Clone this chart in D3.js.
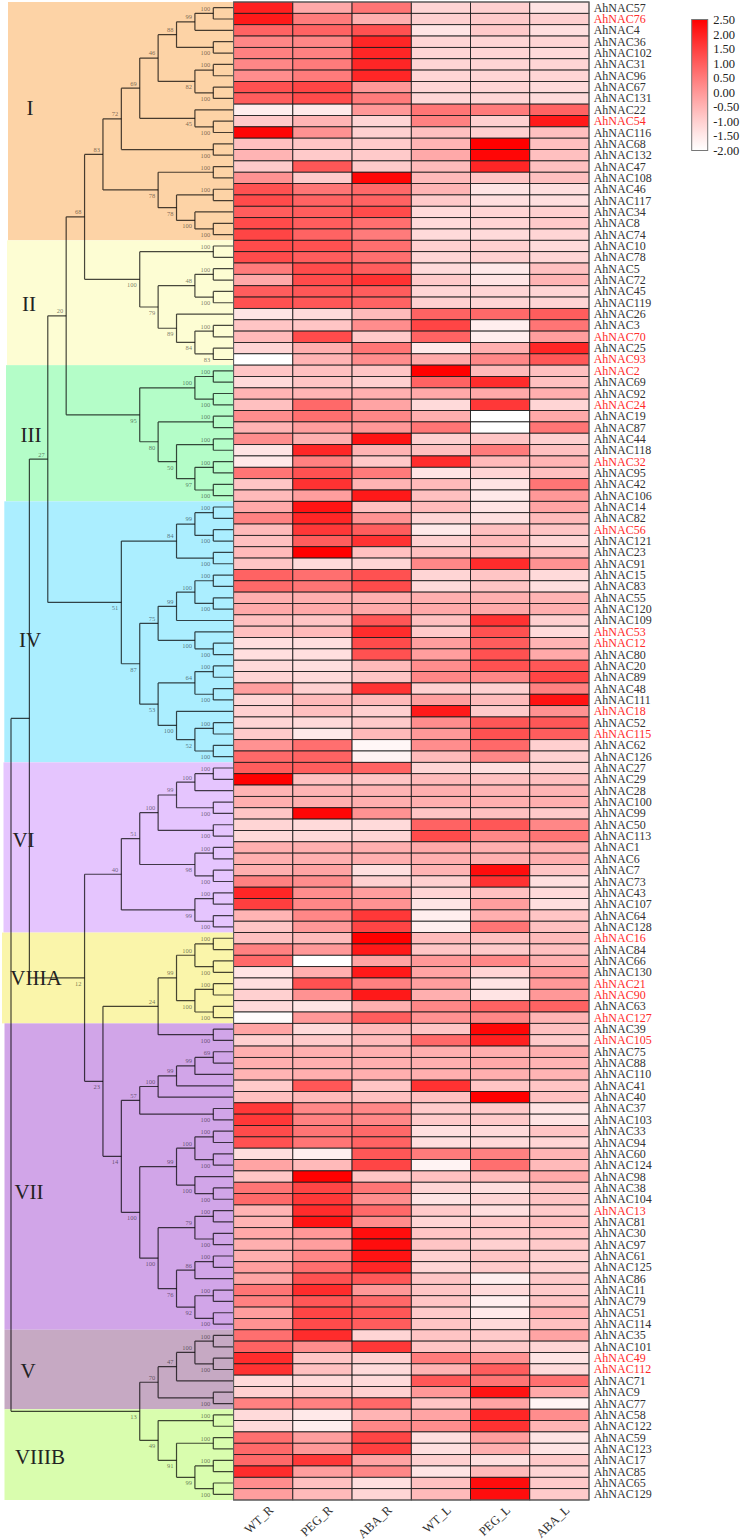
<!DOCTYPE html>
<html><head><meta charset="utf-8">
<script src="https://cdnjs.cloudflare.com/ajax/libs/d3/7.8.5/d3.min.js"></script>
<style>html,body{margin:0;padding:0;background:#fff}svg{display:block}text{font-family:"Liberation Serif",serif}</style>
</head><body><svg id="c" width="742" height="1540"></svg>
<script>
const conditions = ["WT_R","PEG_R","ABA_R","WT_L","PEG_L","ABA_L"];
const genes = [57,76,4,36,102,31,96,67,131,22,54,116,68,132,47,108,46,117,34,8,74,10,78,5,72,45,119,26,3,70,25,93,2,69,92,24,19,87,44,118,32,95,42,106,14,82,56,121,23,91,15,83,55,120,109,53,12,80,20,89,48,111,18,52,115,62,126,27,29,28,100,99,50,113,1,6,7,73,43,107,64,128,16,84,66,130,21,90,63,127,39,105,75,88,110,41,40,37,103,33,94,60,124,98,38,104,13,81,30,97,61,125,86,11,79,51,114,35,101,49,112,71,9,77,58,122,59,123,17,85,65,129];
const highlighted = [76,54,70,93,2,24,32,56,53,12,18,115,16,21,90,127,105,13,49,112];
const expression = [
[2.0,-0.3,0.6,-1.1,-1.0,-1.4],[2.1,0.5,-0.4,-1.0,-0.9,-1.0],[0.9,0.9,1.2,-1.4,-0.9,-1.3],[0.3,0.3,1.9,-1.1,-1.1,-1.1],[0.4,0.4,1.9,-1.1,-1.1,-1.2],[0.3,0.5,1.9,-1.1,-1.1,-1.1],[0.2,0.5,1.9,-1.1,-1.1,-1.1],[1.2,1.4,0.0,-1.1,-1.1,-1.2],[1.0,1.3,0.5,-1.1,-1.1,-1.2],[-1.6,-1.5,0.0,0.6,0.5,0.9],
[-0.9,-0.5,-1.1,0.4,-1.0,2.1],[2.4,0.1,-1.0,-0.7,-1.0,-0.7],[-0.7,-0.8,-0.9,-0.5,2.5,-0.7],[-0.5,-0.9,-0.9,-0.3,2.4,-0.7],[-0.9,1.1,-0.9,-0.6,1.9,-0.7],[0.1,-0.9,2.4,-0.6,-0.8,-0.7],[1.2,0.6,0.8,-0.5,-1.4,-1.3],[1.3,0.9,0.9,-0.9,-1.3,-1.3],[1.0,1.0,1.3,-1.2,-1.1,-1.0],[1.3,1.0,0.7,-1.2,-1.1,-0.9],
[1.4,0.9,0.5,-1.2,-1.2,-1.1],[1.3,1.2,0.7,-1.0,-1.0,-1.2],[1.3,1.0,0.7,-1.1,-1.0,-1.1],[0.5,1.3,1.0,-1.2,-1.5,-0.7],[-0.3,1.3,1.7,-0.9,-1.4,-0.5],[1.0,1.1,1.0,-1.1,-1.1,-1.1],[1.2,1.1,0.9,-1.0,-1.1,-1.1],[-1.4,-1.2,-0.6,0.9,0.8,1.0],[-0.8,-0.8,0.2,1.4,-1.6,0.6],[-0.6,1.3,-0.9,0.9,-1.6,-0.1],
[-1.1,-0.4,0.6,-1.5,-0.4,1.9],[-2.0,-0.5,0.2,-0.3,0.3,1.1],[-0.8,-0.7,-0.8,2.5,-0.6,-0.7],[-1.2,-0.8,-1.0,0.9,1.8,-0.7],[-0.5,-0.5,-0.4,-0.3,-0.3,-0.4],[-0.7,0.8,-0.2,-1.2,1.6,-1.1],[0.2,0.7,0.3,-0.4,-2.0,-0.3],[-0.5,-0.1,0.0,0.6,-2.0,0.6],[0.2,-0.4,2.2,-1.0,-0.8,-1.0],[-1.4,1.9,-0.5,-0.7,0.5,-0.7],
[-1.5,0.4,-0.9,1.8,-0.6,-0.5],[0.6,1.2,0.5,-1.4,-1.1,-0.7],[-0.8,1.7,-0.5,-0.6,-1.4,0.6],[-0.6,-0.1,2.1,-0.7,-1.5,0.0],[-0.3,2.2,-0.7,-0.6,-1.4,-0.2],[0.4,1.9,0.1,-1.1,-1.3,-0.6],[-0.6,1.6,1.0,-1.5,-0.7,-0.8],[-0.7,1.0,1.7,-1.0,-0.6,-1.1],[-0.6,2.5,-0.7,-0.7,-0.6,-0.7],[-0.8,-1.2,-1.1,0.3,1.8,0.1],
[0.9,0.7,1.2,-1.1,-0.8,-1.2],[0.8,0.6,1.3,-1.2,-0.8,-1.3],[-0.4,-0.4,-0.4,-0.4,-0.4,-0.5],[-0.3,-0.3,-0.3,-0.3,-0.3,-0.4],[-0.7,-0.8,1.1,-0.7,1.7,-1.0],[-0.7,-0.6,1.8,-0.9,1.2,-1.2],[-1.3,-1.3,1.3,-0.1,1.0,-0.5],[-1.3,-1.3,1.2,-0.1,1.2,-0.3],[-1.2,-1.3,-0.6,0.2,1.2,1.1],[-1.1,-1.2,-0.8,0.3,0.3,1.4],
[-0.1,-1.0,1.7,-1.0,-1.0,0.4],[-1.1,-0.6,-0.6,-0.1,-0.6,2.2],[-1.0,-0.7,-1.0,2.1,-0.9,0.1],[-1.1,-1.2,-0.9,0.2,1.1,1.1],[-0.9,-1.5,-0.6,0.0,1.2,1.0],[0.1,0.7,-1.8,0.2,0.8,-1.0],[0.8,0.9,-1.7,-0.6,0.3,-1.0],[1.0,1.0,0.9,-1.1,-1.3,-1.1],[2.5,-0.7,-0.8,-0.6,-0.7,-0.7],[-0.5,-0.5,-0.5,-0.4,-0.5,-0.5],
[-0.4,-0.4,-0.4,-0.4,-0.4,-0.4],[-0.8,2.4,0.1,-0.8,-0.7,-0.9],[-1.1,-1.2,-1.2,0.9,1.1,0.3],[-1.2,-1.2,-1.1,1.3,0.3,0.6],[-0.4,-0.4,-0.4,-0.3,-0.4,-0.4],[-0.4,-0.4,-0.4,-0.4,-0.4,-0.4],[-0.4,-0.2,-1.3,-0.5,2.3,-0.8],[0.4,0.2,-1.0,-1.0,1.7,-1.3],[1.9,0.2,-0.1,-1.1,-0.7,-1.2],[1.5,0.3,0.1,-1.4,-0.1,-1.3],
[-0.5,0.3,1.6,-1.6,-0.4,-0.8],[-0.8,0.0,1.4,-1.6,0.6,-0.7],[-0.7,-0.6,2.5,-0.6,-0.7,-0.6],[0.4,0.0,2.1,-0.8,-0.9,-0.7],[0.8,-2.0,-0.2,0.0,0.3,-0.4],[-1.4,-0.4,2.1,-0.2,-1.1,-0.1],[-1.3,1.2,0.4,-0.1,-1.4,0.0],[-1.0,0.1,2.1,-0.4,-1.4,0.0],[-1.2,-1.4,-0.4,0.3,0.9,0.9],[-1.9,0.0,1.0,0.1,0.3,-0.5],
[-0.2,-1.2,-0.6,-0.8,2.4,-0.7],[-1.0,-0.9,-0.6,0.8,2.0,-0.9],[-0.4,-0.4,-0.4,-0.4,-0.4,-0.4],[-0.4,-0.4,-0.4,-0.4,-0.3,-0.5],[-0.5,-0.4,-0.4,-0.4,-0.4,-0.5],[-0.9,1.1,-0.8,1.7,-0.8,-0.8],[-0.7,-0.6,-0.7,-0.7,2.5,-0.7],[1.6,0.3,0.3,-0.9,-0.9,-1.4],[1.6,0.4,0.3,-0.9,-0.9,-1.4],[1.3,0.6,0.8,-1.3,-1.2,-0.8],
[1.2,0.6,0.9,-1.3,-1.2,-1.1],[-1.3,-1.6,1.1,0.5,0.4,-0.5],[-0.2,-0.6,1.4,-1.7,0.7,-0.6],[-0.8,2.5,-0.8,-0.7,-0.6,-0.3],[0.6,1.4,0.6,-1.1,-1.3,-0.8],[0.8,1.6,0.2,-1.4,-1.1,-0.8],[-0.5,1.8,0.8,-0.9,-1.3,-0.9],[-0.5,2.2,0.2,-1.1,-0.9,-0.7],[-0.3,0.0,2.3,-0.8,-0.9,-0.8],[-0.4,-0.1,2.3,-0.8,-1.0,-0.9],
[-0.4,0.3,2.2,-1.0,-0.8,-1.0],[-0.1,0.7,1.9,-1.1,-0.9,-1.0],[-0.2,1.2,1.1,-0.8,-1.6,-0.9],[0.6,1.8,0.0,-0.8,-1.2,-0.9],[0.4,1.1,0.8,-0.8,-1.6,-0.8],[-0.1,1.4,1.1,-0.9,-1.5,-0.5],[0.1,1.3,1.0,-0.8,-1.2,-0.7],[0.7,1.8,-1.1,-0.8,-0.9,-0.2],[0.9,0.2,1.6,-0.8,-0.9,-1.1],[1.8,-0.8,-1.0,0.5,0.1,-1.4],
[1.7,-0.7,-1.2,-0.5,1.0,-1.2],[-1.2,-1.2,-1.2,1.1,0.6,0.7],[-1.0,-0.8,-1.0,0.0,2.2,-0.3],[0.4,0.4,0.8,-0.8,-0.2,-1.7],[-1.2,-1.5,-0.5,-0.2,1.9,0.2],[-1.2,-1.6,0.3,0.2,1.7,-0.5],[0.7,-0.1,1.4,-1.3,-0.1,-1.4],[0.8,0.0,1.5,-1.3,-0.4,-1.4],[0.8,1.6,-0.2,-1.0,-1.3,-0.9],[1.8,-0.1,0.3,-1.4,-0.6,-1.1],
[0.2,-0.7,-1.3,-0.7,2.3,-0.9],[-0.1,-0.6,-1.1,-0.6,2.3,-0.9]];
const legendTicks = [2.5,2,1.5,1,0.5,0,-0.5,-1,-1.5,-2];
const cladeNames = ["I","II","III","IV","VI","VIIIA","VII","V","VIIIB"];
const cladeFirstGene = [57,10,2,14,27,16,39,35,58];
const cladeLastGene = [74,93,106,126,128,127,114,77,129];

// tree: [column, bootstrap, ...children]; a bare number is a leaf gene
const n=(c,b,...k)=>[c,b,...k], p=(b,a,d)=>[1,b,a,d];
const cladeI=n(8,68,
  n(7,83,
    n(6,72,
      n(5,69,
        n(4,46,
          n(3,88,n(2,99,p(100,57,76),4),p(100,36,102)),
          n(2,82,p(100,31,96),p(100,67,131))),
        n(2,45,22,p(100,54,116))),
      p(100,68,132)),
    n(4,78,p(100,47,108),n(3,78,p(100,46,117),n(2,100,34,p(100,8,74))))),
  n(5,100,p(100,10,78),
    n(4,79,n(2,48,p(100,5,72),p(100,45,119)),
      n(3,89,26,n(2,84,p(100,3,70),p(83,25,93))))));
const cladeIII=n(5,95,n(2,100,p(100,2,69),p(100,92,24)),
  n(4,80,p(100,19,87),n(3,50,p(100,44,118),n(2,97,p(100,32,95),p(100,42,106)))));
const cladeIV=n(6,51,
  n(3,84,n(2,99,p(100,14,82),p(100,56,121)),p(100,23,91)),
  n(5,87,
    n(4,75,n(3,99,n(2,100,p(100,15,83),p(100,55,120)),109),n(2,100,53,p(100,12,80))),
    n(4,53,n(2,64,p(100,20,89),p(100,48,111)),n(3,100,18,n(2,52,p(100,52,115),p(100,62,126))))));
const cladeVI=n(6,40,
  n(5,51,
    n(4,100,n(3,99,n(2,100,p(100,27,29),28),p(100,100,99)),p(100,50,113)),
    n(2,98,p(100,1,6),p(100,7,73))),
  n(2,99,p(100,43,107),p(100,64,128)));
const cladeVIII=n(4,24,
  n(3,99,n(2,100,p(100,16,84),p(100,66,130)),n(2,100,p(100,21,90),p(100,63,127))),
  p(100,39,105));
const cladeVII=n(6,14,
  n(5,57,n(4,100,n(3,99,n(2,99,p(69,75,88),110),41),40),p(100,37,103)),
  n(5,100,
    n(3,99,n(2,100,p(100,33,94),p(100,60,124)),n(2,100,98,p(100,38,104))),
    n(4,100,n(2,79,p(100,13,81),p(100,30,97)),
      n(3,76,n(2,86,p(100,61,125),86),n(2,92,p(100,11,79),p(100,51,114))))));
const cladeVb=n(5,13,
  n(4,70,n(3,47,n(2,100,p(100,35,101),p(100,49,112)),71),p(100,9,77)),
  n(4,49,p(100,58,122),n(3,91,p(100,59,123),n(2,99,p(100,17,85),p(100,65,129)))));
const tree=n(12,null,
  n(11,null,
    n(10,27,n(9,20,cladeI,cladeIII),cladeIV),
    n(8,12,cladeVI,n(7,23,cladeVIII,cladeVII))),
  cladeVb);

// ----- layout -----
const svg=d3.select("#c");
const top0=2,bot0=1500;
const xH=d3.scaleBand().domain(conditions).range([233.6,589]);
const yH=d3.scaleBand().domain(genes).range([top0,bot0]);
const t01=d3.scaleLinear().domain([-2,2.5]).range([0,1]).clamp(true);
const ramp=d3.interpolateRgb("#ffffff","#ff0000");
const color=v=>ramp(Math.pow(t01(v),1.12));
const xCol=d3.scaleLinear().domain([1,12]).range([213.3,11]);
const rowMid=g=>yH(g)+yH.bandwidth()/2;

// clade bands
const bandColors=["#fdd3a6","#fdfdd3","#b4fdc8","#abeeff","#e5c5fe","#faf5aa","#d1a5e8","#c6a9c3","#d9fdae"];
const bandLeft=[8,7,6,4.3,3.5,2,4.5,4.5,4.5];
const labelX=[30,29,31,30,23.5,36,29,28,40];
const labelY=[115,311,442,647,847,985,1199,1378,1464];
const cladeIdx=d3.range(cladeNames.length);
svg.append("g").selectAll("rect").data(cladeIdx).join("rect")
  .attr("x",i=>bandLeft[i]).attr("width",i=>233.6-bandLeft[i])
  .attr("y",i=>yH(cladeFirstGene[i]))
  .attr("height",i=>yH(cladeLastGene[i])+yH.bandwidth()-yH(cladeFirstGene[i]))
  .attr("fill",i=>bandColors[i]);

// tree
const root=d3.hierarchy(tree,d=>Array.isArray(d)?d.slice(2):null);
root.eachAfter(d=>{
  if(d.children){d.col=d.data[0];d.boot=d.data[1];d.py=(d.children[0].py+d.children[d.children.length-1].py)/2;d.px=xCol(d.col);}
  else{d.py=rowMid(d.data);d.px=233.6;}
});
const nodes=root.descendants();
const tg=svg.append("g").attr("fill","none").attr("stroke","#000").attr("stroke-opacity",.72).attr("stroke-width",1.2);
tg.selectAll("path").data(nodes.filter(d=>d.children)).join("path")
  .attr("d",d=>{
    const P=d3.path();
    d.children.forEach(c=>{P.moveTo(d.px,c.py);P.lineTo(c.px,c.py);});
    P.moveTo(d.px,d.children[0].py);P.lineTo(d.px,d.children[d.children.length-1].py);
    return P.toString();
  });
svg.append("g").attr("font-size",6.5).attr("fill","#000").attr("fill-opacity",.55).attr("text-anchor","end")
  .selectAll("text").data(nodes.filter(d=>d.children&&d.boot!=null&&d.parent)).join("text")
  .attr("x",d=>d.px-3)
  .attr("y",d=>d.parent.children[0]===d?d.py-2.6:d.py+8)
  .text(d=>d.boot);

// clade names
svg.append("g").attr("font-size",21).attr("fill","#222").attr("text-anchor","middle")
  .selectAll("text").data(cladeIdx).join("text")
  .attr("x",i=>labelX[i]).attr("y",i=>labelY[i]).text(i=>cladeNames[i]);

// heatmap
const cells=genes.flatMap((g,r)=>conditions.map((c,k)=>({g,c,v:expression[r][k]})));
svg.append("g").attr("stroke","#1a1a1a").attr("stroke-width",.85)
  .selectAll("rect").data(cells).join("rect")
  .attr("x",d=>xH(d.c)).attr("y",d=>yH(d.g))
  .attr("width",xH.bandwidth()).attr("height",yH.bandwidth())
  .attr("fill",d=>color(d.v));
svg.append("rect").attr("x",233.6).attr("y",top0).attr("width",589-233.6).attr("height",bot0-top0)
  .attr("fill","none").attr("stroke","#666").attr("stroke-width",1);

// gene labels
svg.append("g").attr("font-size",12).selectAll("text").data(genes).join("text")
  .attr("x",593.7).attr("y",g=>rowMid(g)+4)
  .attr("fill",g=>highlighted.includes(g)?"#ff2a2a":"#333")
  .text(g=>"AhNAC"+g);

// column labels
svg.append("g").attr("font-size",12.5).attr("fill","#333").attr("text-anchor","end")
  .selectAll("text").data(conditions).join("text")
  .attr("transform",c=>`translate(${xH(c)+xH.bandwidth()/2+11},1511) rotate(-43)`)
  .text(c=>c);

// legend
const lx=691.7,lw=16;
const yL=d3.scaleLinear().domain([2.5,-2]).range([19.5,150.5]);
const defs=svg.append("defs").append("linearGradient").attr("id","lg").attr("x1",0).attr("x2",0).attr("y1",0).attr("y2",1);
defs.selectAll("stop").data(legendTicks).join("stop")
  .attr("offset",d=>(yL(d)-19.5)/131).attr("stop-color",d=>color(d));
svg.append("rect").attr("x",lx).attr("y",19.5).attr("width",lw).attr("height",131)
  .attr("fill","url(#lg)").attr("stroke","#777").attr("stroke-width",1);
const ax=svg.append("g").attr("transform",`translate(${lx+lw},0)`)
  .call(d3.axisRight(yL).tickValues(legendTicks).tickSize(0).tickPadding(5.5).tickFormat(d=>d.toFixed(2)));
ax.select(".domain").remove();
ax.selectAll("text").attr("font-family",'"Liberation Serif",serif').attr("font-size",12.5).attr("fill","#222");
</script></body></html>
